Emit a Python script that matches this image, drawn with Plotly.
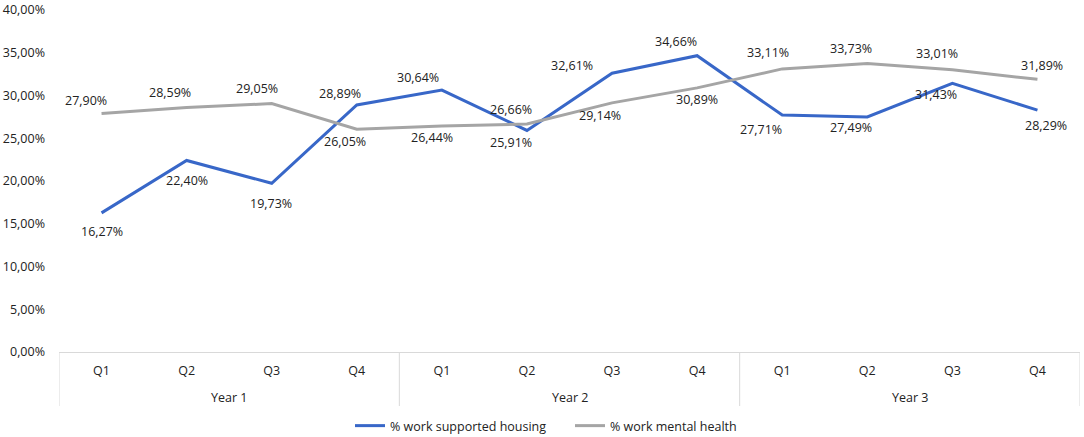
import plotly.graph_objects as go

years = ["Year 1"] * 4 + ["Year 2"] * 4 + ["Year 3"] * 4
quarters = ["Q1", "Q2", "Q3", "Q4"] * 3

supported_housing = [16.27, 22.40, 19.73, 28.89, 30.64, 25.91, 32.61, 34.66, 27.71, 27.49, 31.43, 28.29]
mental_health = [27.90, 28.59, 29.05, 26.05, 26.44, 26.66, 29.14, 30.89, 33.11, 33.73, 33.01, 31.89]

# label offsets (pixels, dx right, dy down) as placed in the original chart
sh_dx = [0, 0, -1, -17, -24, -16, -40, -21, -21, -16, -16, 9]
sh_dy = [19, 20, 20, -11, -13, 12, -8, -14, 14, 11, 11, 15]
mh_dx = [-16, -17, -15, -12, -10, -16, -12, 0, -14, -16, -15, 5]
mh_dy = [-13, -15, -15, 12, 12, -15, 13, 12, -16, -15, -16, -14]

FONT = "Open Sans"
FS = 12.5
TXT = "#222222"
BLUE = "#3867C8"
GREY = "#A5A5A5"
AXIS = "#D9D9D9"

idx = list(range(len(quarters)))
plot_h = 437 - 10 - 85  # plot area height in px


def fmt(v):
    return f"{v:.2f}".replace(".", ",") + "%"


fig = go.Figure()
fig.add_trace(go.Scatter(
    x=idx, y=[v / 100 for v in supported_housing],
    mode="lines", name="% work supported housing",
    line=dict(color=BLUE, width=3),
))
fig.add_trace(go.Scatter(
    x=idx, y=[v / 100 for v in mental_health],
    mode="lines", name="% work mental health",
    line=dict(color=GREY, width=3),
))

annotations = []
for series, dxs, dys in ((supported_housing, sh_dx, sh_dy), (mental_health, mh_dx, mh_dy)):
    for i, v in enumerate(series):
        annotations.append(dict(
            x=i, y=v / 100, xref="x", yref="y", text=fmt(v), showarrow=False,
            xshift=dxs[i], yshift=-dys[i], xanchor="center", yanchor="middle",
            font=dict(family=FONT, size=FS, color=TXT),
        ))

# year group labels and dividers
groups = []
for i, y in enumerate(years):
    if not groups or groups[-1][0] != y:
        groups.append([y, i, i])
    else:
        groups[-1][2] = i

shapes = []
for name, start, end in groups:
    annotations.append(dict(
        x=(start + end) / 2, y=-45 / plot_h, xref="x", yref="paper", text=name,
        showarrow=False, xanchor="center", yanchor="middle",
        font=dict(family=FONT, size=FS, color=TXT),
    ))
bounds = [g[1] - 0.5 for g in groups] + [groups[-1][2] + 0.5]
for b in bounds:
    shapes.append(dict(type="line", xref="x", yref="paper", x0=b, x1=b,
                       y0=0, y1=-54 / plot_h, line=dict(color=AXIS, width=1)))

fig.update_layout(
    width=1084, height=437,
    margin=dict(l=59, r=4, t=10, b=85),
    paper_bgcolor="white", plot_bgcolor="white",
    font=dict(family=FONT, size=FS, color=TXT),
    showlegend=True,
    legend=dict(orientation="h", xref="container", yref="container",
                x=(358 - 8) / 1084, xanchor="left", y=(437 - 426) / 437, yanchor="middle",
                itemwidth=30, entrywidth=175,
                font=dict(family=FONT, size=FS, color=TXT)),
    annotations=annotations,
    shapes=shapes,
    separators=",.",
)
fig.update_yaxes(range=[0, 0.4], dtick=0.05, tickformat=".2%", showgrid=False,
                 zeroline=False, showline=False, ticks="", automargin=False,
                 ticklabelstandoff=13,
                 tickfont=dict(family=FONT, size=FS, color=TXT))
fig.update_xaxes(range=[-0.5, len(quarters) - 0.5], tickvals=idx, ticktext=quarters,
                 showgrid=False, zeroline=False, showline=True, linecolor=AXIS, linewidth=1,
                 ticks="", automargin=False, ticklabelstandoff=7,
                 tickfont=dict(family=FONT, size=FS, color=TXT))

fig.write_html("out.html", config={"displayModeBar": False},
               post_script="document.body.style.margin='0px';document.body.style.overflow='hidden';")
